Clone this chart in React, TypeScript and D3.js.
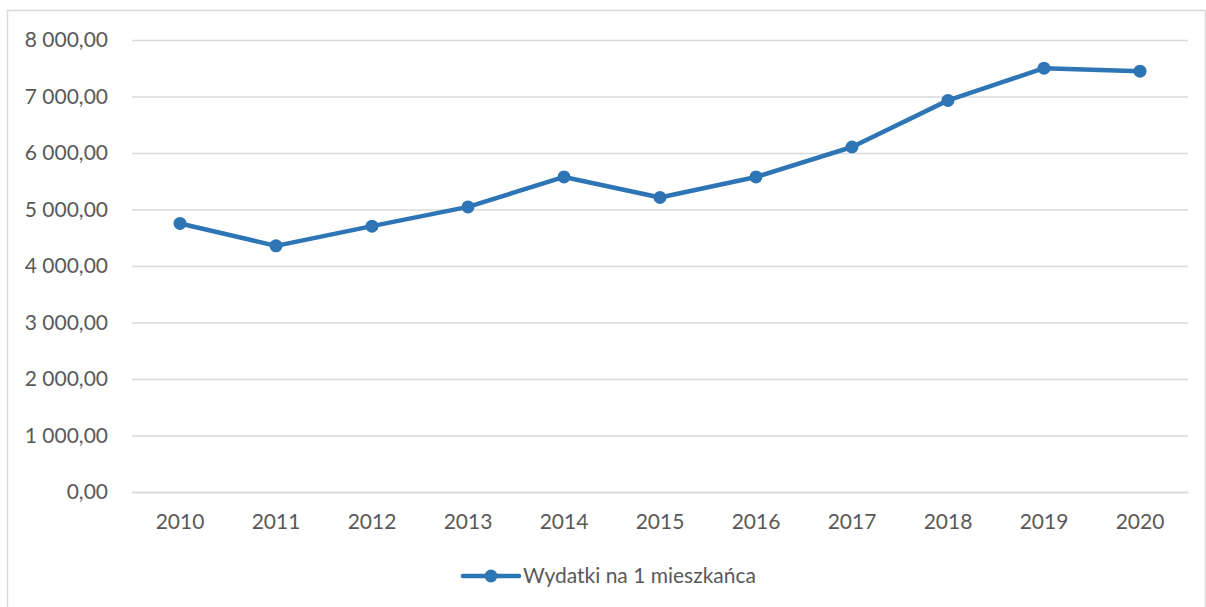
import * as d3 from 'd3'
import * as React from 'react'
//------------------------------data------------------------------
const YEARS = ['2010', '2011', '2012', '2013', '2014', '2015', '2016', '2017', '2018', '2019', '2020']
const SPENDING = [4753, 4357, 4705, 5046, 5576, 5212, 5576, 6106, 6931, 7502, 7449]
const Y_TICKS = [0, 1000, 2000, 3000, 4000, 5000, 6000, 7000, 8000]
const SERIES_NAME = 'Wydatki na 1 mieszkańca'

const WIDTH = 1206
const HEIGHT = 607
const FONT = 'Lato, "Open Sans", sans-serif'
const TEXT_COLOR = '#595959'
const GRID_COLOR = '#D9D9D9'
const LINE_COLOR = '#2E75B6'
const MARGIN = { top: 40, right: 18, bottom: 115, left: 132 }

// format like excel "8 000,00"
const fmt = (v: number) => {
  const s = d3.format(',.2f')(v)
  return s.replace(/,/g, ' ').replace('.', ',')
}
//------------------------------drawChart------------------------------
const drawChart = (svgRef: React.RefObject<SVGSVGElement>) => {
  const svg = d3.select(svgRef.current)
  svg.selectAll('*').remove()
  svg.attr('width', WIDTH).attr('height', HEIGHT)

  // outer chart border
  svg
    .append('rect')
    .attr('x', 7.5)
    .attr('y', 10.5)
    .attr('width', WIDTH - 8)
    .attr('height', HEIGHT)
    .attr('fill', '#fff')
    .attr('stroke', GRID_COLOR)
    .attr('stroke-width', 1.5)

  const x = d3
    .scaleBand()
    .domain(YEARS)
    .range([MARGIN.left, WIDTH - MARGIN.right])
  const y = d3
    .scaleLinear()
    .domain([0, 8000])
    .range([HEIGHT - MARGIN.bottom, MARGIN.top])

  const yAxis = svg
    .append('g')
    .attr('transform', `translate(${MARGIN.left},0)`)
    .call(
      d3
        .axisLeft(y)
        .tickValues(Y_TICKS)
        .tickFormat(d => fmt(d as number))
        .tickSize(-(WIDTH - MARGIN.left - MARGIN.right))
        .tickPadding(24)
    )
  yAxis.select('.domain').remove()
  yAxis.selectAll('line').attr('stroke', GRID_COLOR).attr('stroke-width', 1.5)
  yAxis
    .selectAll('text')
    .attr('fill', TEXT_COLOR)
    .attr('font-family', FONT)
    .attr('font-size', 21)

  const xAxis = svg
    .append('g')
    .attr('transform', `translate(0,${HEIGHT - MARGIN.bottom})`)
    .call(d3.axisBottom(x).tickSize(0).tickPadding(22))
  xAxis.select('.domain').attr('stroke', GRID_COLOR).attr('stroke-width', 1.5)
  xAxis
    .selectAll('text')
    .attr('fill', TEXT_COLOR)
    .attr('font-family', FONT)
    .attr('font-size', 21)

  const cx = (i: number) => (x(YEARS[i]) as number) + x.bandwidth() / 2
  const line = d3
    .line<number>()
    .x((_, i) => cx(i))
    .y(d => y(d))

  svg
    .append('path')
    .datum(SPENDING)
    .attr('d', line)
    .attr('fill', 'none')
    .attr('stroke', LINE_COLOR)
    .attr('stroke-width', 4.5)
    .attr('stroke-linejoin', 'round')

  svg
    .append('g')
    .selectAll('circle')
    .data(SPENDING)
    .join('circle')
    .attr('cx', (_, i) => cx(i))
    .attr('cy', d => y(d))
    .attr('r', 6.5)
    .attr('fill', LINE_COLOR)

  //legend
  const legend = svg.append('g').attr('transform', 'translate(463,576)')
  legend
    .append('line')
    .attr('x1', 0)
    .attr('x2', 56)
    .attr('stroke', LINE_COLOR)
    .attr('stroke-width', 4.5)
    .attr('stroke-linecap', 'round')
  legend.append('circle').attr('cx', 28).attr('r', 6.5).attr('fill', LINE_COLOR)
  legend
    .append('text')
    .attr('x', 60)
    .attr('dy', '0.35em')
    .attr('fill', TEXT_COLOR)
    .attr('font-family', FONT)
    .attr('font-size', 21)
    .text(SERIES_NAME)
}
//------------------------------Component------------------------------
const App: React.FunctionComponent = () => {
  const chartSvg = React.useRef<SVGSVGElement>(null)

  React.useEffect(() => {
    drawChart(chartSvg)
  }, [])

  return (
    <svg
      ref={chartSvg}
      style={{ position: 'absolute', left: 0, top: 0, display: 'block' }}
    />
  )
}

export default App
